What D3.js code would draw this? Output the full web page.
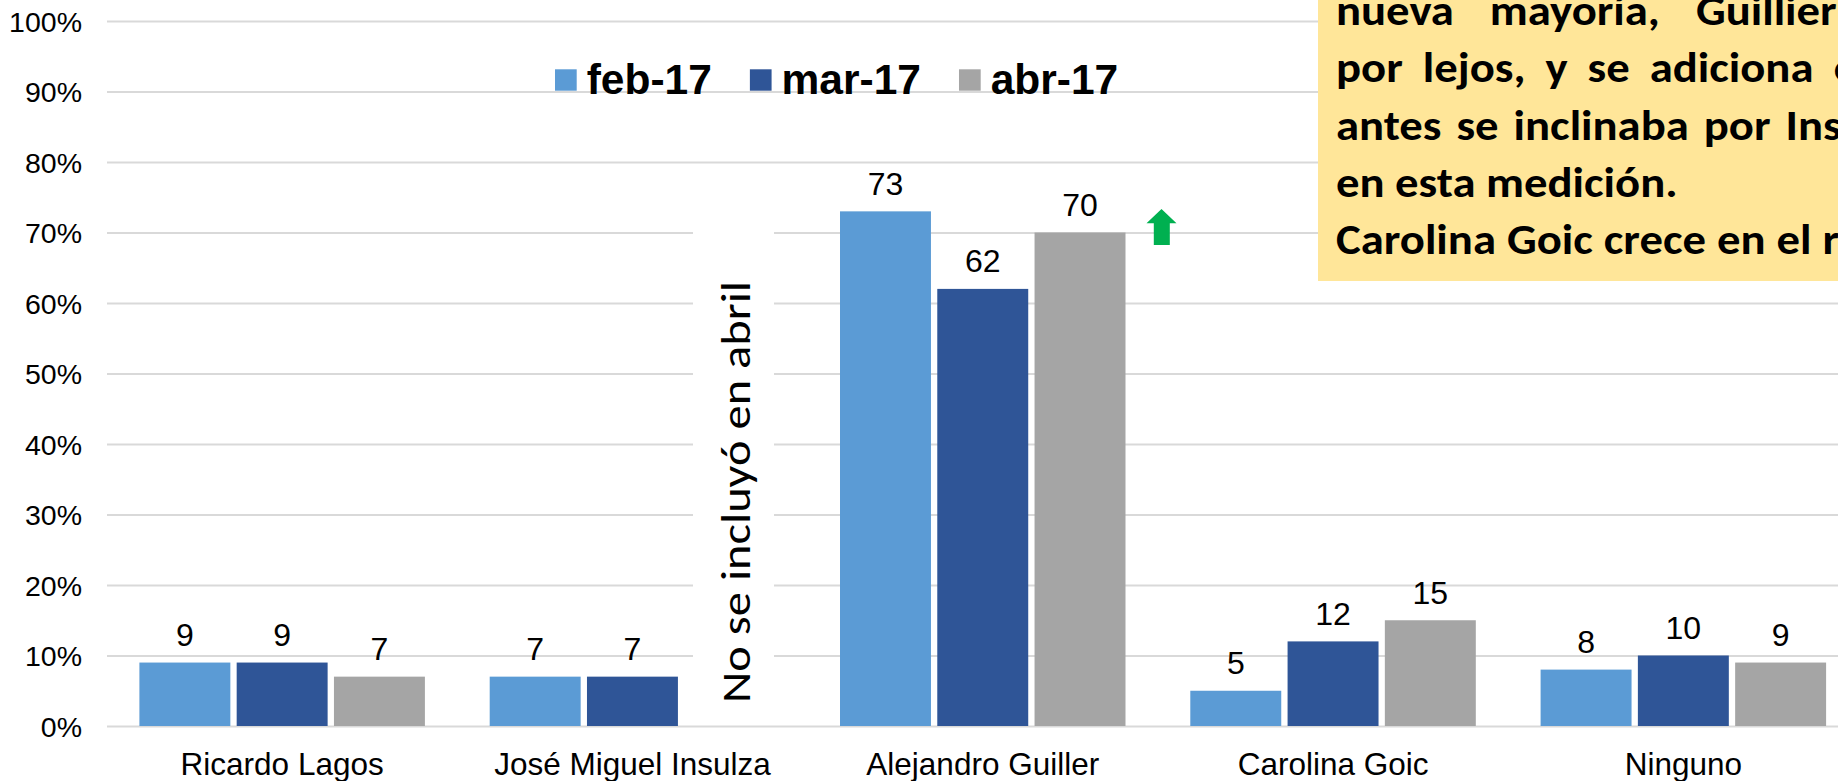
<!DOCTYPE html>
<html>
<head>
<meta charset="utf-8">
<script src="https://cdn.jsdelivr.net/npm/d3@7"></script>
<style>
  body { margin: 0; background: #fff; }
  svg { display: block; }
</style>
</head>
<body>
<svg id="chart" width="1838" height="781"></svg>
<script>
// data
var categories = ["Ricardo Lagos", "José Miguel Insulza", "Alejandro Guiller", "Carolina Goic", "Ninguno"];
var seriesNames = ["feb-17", "mar-17", "abr-17"];
var feb = [9, 7, 73, 5, 8];
var mar = [9, 7, 62, 12, 10];
var abr = [7, null, 70, 15, 9];
var yTicks = [0, 10, 20, 30, 40, 50, 60, 70, 80, 90, 100];
var colors = ["#5B9BD5", "#2F5597", "#A5A5A5"];

// note box text (justified in the original, cut at the right edge)
var noteLines = [
  ["nueva", "mayoría,", "Guillier"],
  ["por", "lejos,", "y", "se", "adiciona", "el"],
  ["antes", "se", "inclinaba", "por", "Insulza"],
  ["en esta medición."],
  ["Carolina", "Goic", "crece", "en", "el", "rango"]
];
var noteGaps = [36, 20, 15, 0, 11];

var width = 1838, height = 781;
var margin = {left: 107, top: 21, bottom: 55};
var band = 350.3;
var zeroline = 726;
var arial = "'Liberation Sans', Arial, sans-serif";
var calibri = "Carlito, Calibri, Lato, sans-serif";

var svg = d3.select("#chart");

var series = seriesNames.map(function(s, i) {
  var vals = [feb, mar, abr][i];
  return {name: s, color: colors[i], values: vals};
});

var x0 = d3.scaleBand()
  .domain(categories)
  .range([margin.left, margin.left + band * categories.length]);

var x1 = d3.scaleBand()
  .domain(seriesNames)
  .range([32.4, band - 32.4])
  .paddingInner(0.065);

var y = d3.scaleLinear()
  .domain([0, 100])
  .range([zeroline, margin.top]);

// gridlines + y labels
var yAxis = svg.append("g")
  .attr("transform", "translate(" + margin.left + ",0)")
  .call(d3.axisLeft(y)
    .tickValues(yTicks)
    .tickSize(-(width - margin.left))
    .tickPadding(25)
    .tickFormat(function(d) { return d + "%"; }));
yAxis.select(".domain").remove();
yAxis.selectAll(".tick line")
  .attr("stroke", "#D9D9D9")
  .attr("stroke-width", 2);
yAxis.selectAll(".tick text")
  .attr("dy", "0.36em")
  .style("font-family", arial)
  .style("font-size", "28.5px")
  .attr("fill", "#000");

// white box behind the vertical note
svg.append("rect")
  .attr("x", 693)
  .attr("y", 205)
  .attr("width", 81)
  .attr("height", 510)
  .attr("fill", "#fff");

svg.append("text")
  .attr("transform", "translate(750,703) rotate(-90)")
  .attr("textLength", 422)
  .attr("lengthAdjust", "spacingAndGlyphs")
  .style("font-family", calibri)
  .style("font-size", "42px")
  .attr("fill", "#000")
  .text("No se incluyó en abril");

// bars
var groups = svg.append("g")
  .attr("id", "bars")
  .selectAll("g")
  .data(series)
  .enter()
  .append("g")
  .attr("fill", function(d) { return d.color; });

function rows(s) {
  return categories.map(function(c, i) { return {cat: c, name: s.name, v: s.values[i]}; })
    .filter(function(d) { return d.v != null; });
}

groups.selectAll("rect")
  .data(rows)
  .enter()
  .append("rect")
  .attr("x", function(d) { return x0(d.cat) + x1(d.name); })
  .attr("y", function(d) { return y(d.v); })
  .attr("width", x1.bandwidth())
  .attr("height", function(d) { return zeroline - y(d.v); });

groups.selectAll("text")
  .data(rows)
  .enter()
  .append("text")
  .attr("x", function(d) { return x0(d.cat) + x1(d.name) + x1.bandwidth() / 2; })
  .attr("y", function(d) { return y(d.v) - 16.5; })
  .attr("text-anchor", "middle")
  .attr("fill", "#000")
  .style("font-family", arial)
  .style("font-size", "32px")
  .text(function(d) { return d.v; });

// category labels
var xAxis = svg.append("g")
  .attr("transform", "translate(0," + zeroline + ")")
  .call(d3.axisBottom(x0).tickSize(0));
xAxis.select(".domain").remove();
xAxis.selectAll(".tick text")
  .attr("y", 49)
  .attr("dy", 0)
  .attr("fill", "#000")
  .style("font-family", arial)
  .style("font-size", "31.5px");

// legend
var legend = svg.append("g").attr("id", "legend");
var lx = 555;
series.forEach(function(s) {
  legend.append("rect")
    .attr("x", lx)
    .attr("y", 69.3)
    .attr("width", 21.7)
    .attr("height", 21.4)
    .attr("fill", s.color);
  var t = legend.append("text")
    .attr("x", lx + 31.7)
    .attr("y", 93.5)
    .attr("fill", "#000")
    .style("font-family", arial)
    .style("font-size", "42.5px")
    .style("font-weight", "bold")
    .text(s.name);
  lx = lx + 31.7 + t.node().getComputedTextLength() + 38;
});

// green arrow next to the abr bar of Guiller
var ax = x0("Alejandro Guiller") + x1("abr-17") + x1.bandwidth() + 21;
var ay = y(70) - 23.5;
svg.append("path")
  .attr("d", "M" + (ax + 15) + "," + ay +
    " L" + (ax + 30) + "," + (ay + 14.3) +
    " L" + (ax + 23.3) + "," + (ay + 14.3) +
    " L" + (ax + 23.3) + "," + (ay + 36) +
    " L" + (ax + 7.3) + "," + (ay + 36) +
    " L" + (ax + 7.3) + "," + (ay + 14.3) +
    " L" + ax + "," + (ay + 14.3) + " Z")
  .attr("fill", "#00B050");

// yellow note box
svg.append("rect")
  .attr("x", 1318)
  .attr("y", -10)
  .attr("width", 600)
  .attr("height", 291)
  .attr("fill", "#FFE699");

var note = svg.append("g").attr("id", "note");
var probe = note.append("text")
  .style("font-family", calibri)
  .style("font-size", "43px")
  .style("font-weight", "bold")
  .text("Carolina");
var sx = 160 / probe.node().getComputedTextLength();
probe.remove();

noteLines.forEach(function(line, i) {
  var wx = 1336;
  line.forEach(function(w) {
    var t = note.append("text")
      .attr("transform", "translate(" + wx + "," + (25 + i * 57.3) + ") scale(" + sx + ",1)")
      .attr("fill", "#000")
      .style("font-family", calibri)
      .style("font-size", "43px")
      .style("font-weight", "bold")
      .text(w);
    wx = wx + t.node().getComputedTextLength() * sx + noteGaps[i];
  });
});
</script>
</body>
</html>
